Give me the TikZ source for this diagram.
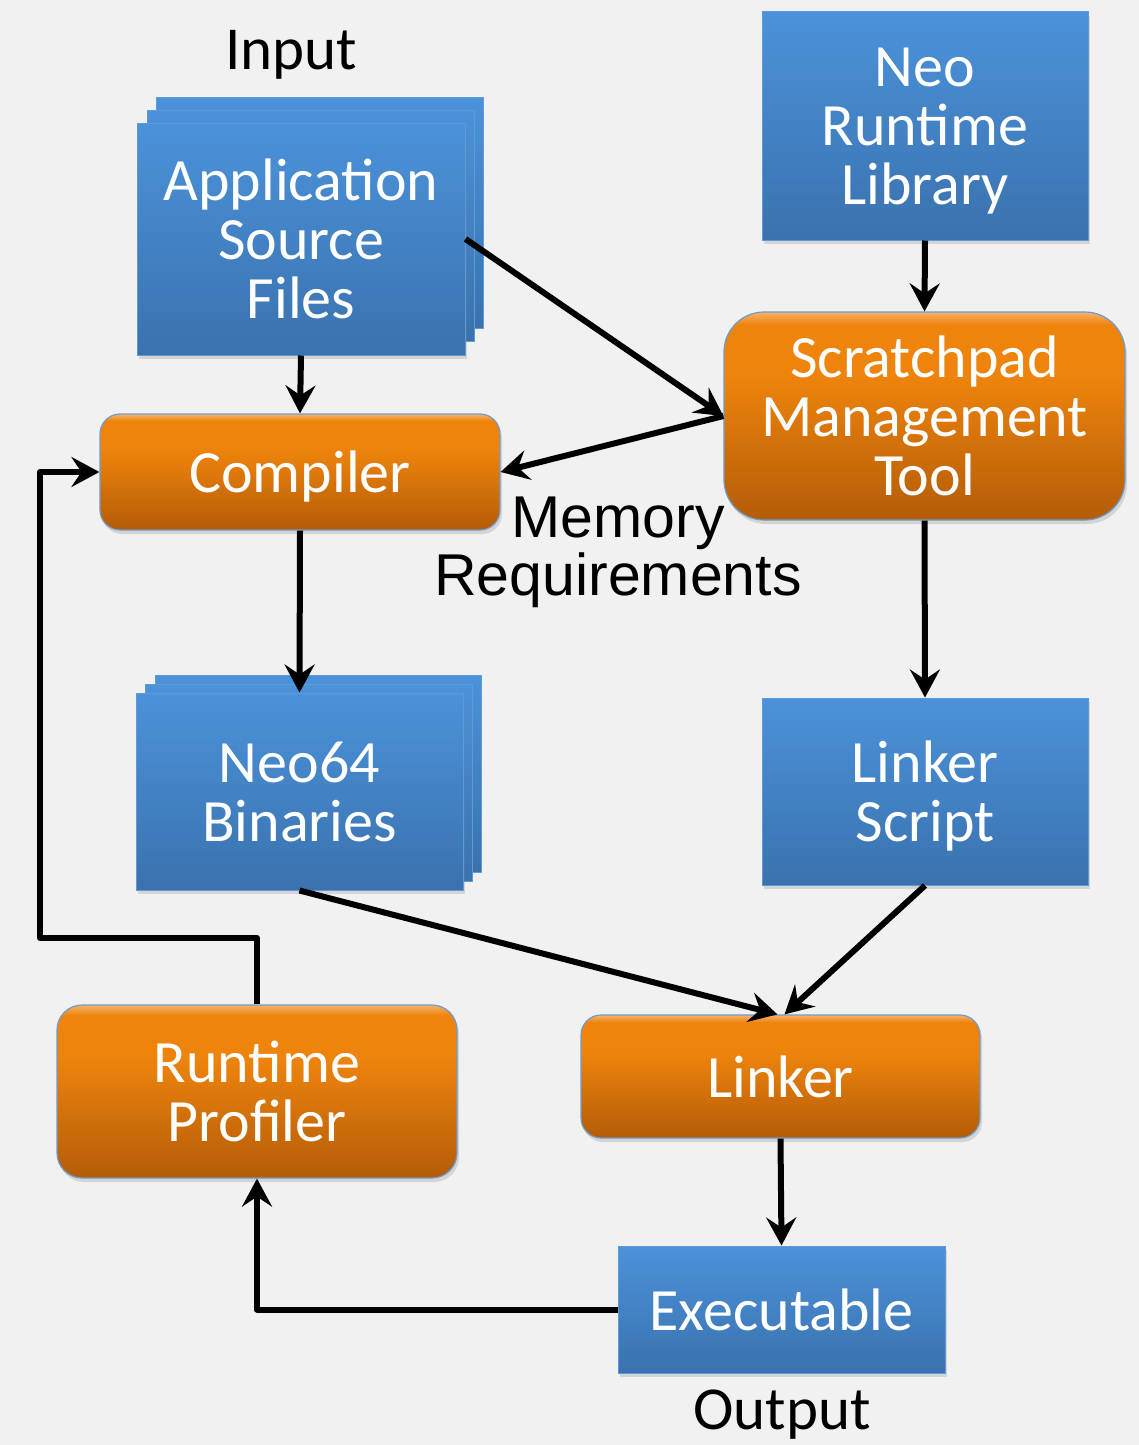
\documentclass[tikz,border=0pt]{standalone}
\usepackage{fontspec}
\setmainfont{Carlito}
\newfontfamily\labfont{Liberation Sans}
\usetikzlibrary{arrows.meta,calc,shadows}
\definecolor{bgc}{HTML}{F1F1F1}
\definecolor{blueT}{HTML}{4B92DA}
\definecolor{blueB}{HTML}{3A72AE}
\definecolor{blueE}{HTML}{5C9AD8}
\definecolor{orT}{HTML}{F7B26A}
\definecolor{orM}{HTML}{EE840C}
\definecolor{orB}{HTML}{B45C08}
\definecolor{orE}{HTML}{6E9CCF}
\pgfdeclareverticalshading{bluesh}{100bp}{color(0bp)=(blueB); color(25bp)=(blueB); color(75bp)=(blueT); color(100bp)=(blueT)}
\pgfdeclareverticalshading{orangesh}{100bp}{color(0bp)=(orB); color(25bp)=(orB); color(60bp)=(orM); color(72bp)=(orM); color(75bp)=(orT); color(100bp)=(orT)}
\tikzset{
  x=1pt, y=-1pt,
  boxtxt/.style={font=\fontsize{60}{59}\selectfont, text=white, align=center, inner sep=0pt, text depth=0pt},
  bluebox/.style={boxtxt, rectangle, shading=bluesh, draw=blueE, line width=1pt,
     drop shadow={shadow xshift=2pt, shadow yshift=-4pt, opacity=0.25}},
  bluelayer/.style={shading=bluesh, draw=blueE, line width=1pt},
  orangebox/.style={boxtxt, rectangle, rounded corners=#1, shading=orangesh, draw=orE, line width=1.2pt,
     drop shadow={shadow xshift=2pt, shadow yshift=-4pt, opacity=0.25}},
  orangebox/.default=20pt,
  lab/.style={font=\fontsize{61}{59}\selectfont, text=black, align=center, inner sep=0pt, text depth=0pt},
  conn/.style={line width=6pt, -{Stealth[length=28pt,width=30pt,inset=10pt]}, line join=round},
}
\begin{document}
\begin{tikzpicture}
\useasboundingbox (0,0) rectangle (1139,1445);
\fill[bgc] (0,0) rectangle (1139,1445);

% Application Source Files stack
\shade[bluelayer] (156,97) rectangle (483,328);
\shade[bluelayer] (147,110) rectangle (474,341);
\node[bluebox, minimum width=328pt, minimum height=232pt] (app) at (301,239) {Application\\Source\\Files};

% Neo64 Binaries stack
\shade[bluelayer] (155,675) rectangle (481,872);
\shade[bluelayer] (145,684) rectangle (472,881);
\node[bluebox, minimum width=327pt, minimum height=197pt] (neo) at (299.5,791.5) {Neo64\\Binaries};

\node[bluebox, minimum width=326pt, minimum height=228pt] (lib) at (925,126) {Neo\\Runtime\\Library};
\node[bluebox, minimum width=326pt, minimum height=187pt] (lscript) at (925,791.5) {Linker\\Script};
\node[bluebox, minimum width=327pt, minimum height=127pt] (exe) at (781.5,1309.5) {Executable};

\node[orangebox=40pt, minimum width=401pt, minimum height=208pt] (scr) at (924.5,416) {Scratchpad\\Management\\Tool};
\node[orangebox=20pt, minimum width=400pt, minimum height=116pt] (comp) at (300,472) {Compiler};
\node[orangebox=25pt, minimum width=400pt, minimum height=173pt] (prof) at (257,1091.5) {Runtime\\Profiler};
\node[orangebox=20pt, minimum width=399pt, minimum height=123pt] (lnk) at (780.5,1076.5) {Linker};

\node[lab] (inlab) at (291,50) {Input};
\node[lab] (outlab) at (782,1410) {Output};
\node[lab, font=\labfont\fontsize{59}{58}\selectfont] (memlab) at (618,546) {Memory\\Requirements};

% connectors
\draw[conn] (app.south) -- (comp.north);
\draw[conn] (app.east) -- (scr.west);
\draw[conn] (scr.west) -- (comp.east);
\draw[conn] (lib.south) -- (scr.north);
\draw[conn] (comp.south) -- (neo.north);
\draw[conn] (scr.south) -- (lscript.north);
\draw[conn] (neo.south) -- ($(lnk.north)+(-3,0)$);
\draw[conn] (lscript.south) -- ($(lnk.north)+(4,0)$);
\draw[conn] (lnk.south) -- (exe.north);
\draw[conn] (exe.west) -| (prof.south);
\coordinate (fb) at (40,938);
\draw[conn] (prof.north) |- (fb) |- (comp.west);
\end{tikzpicture}
\end{document}
